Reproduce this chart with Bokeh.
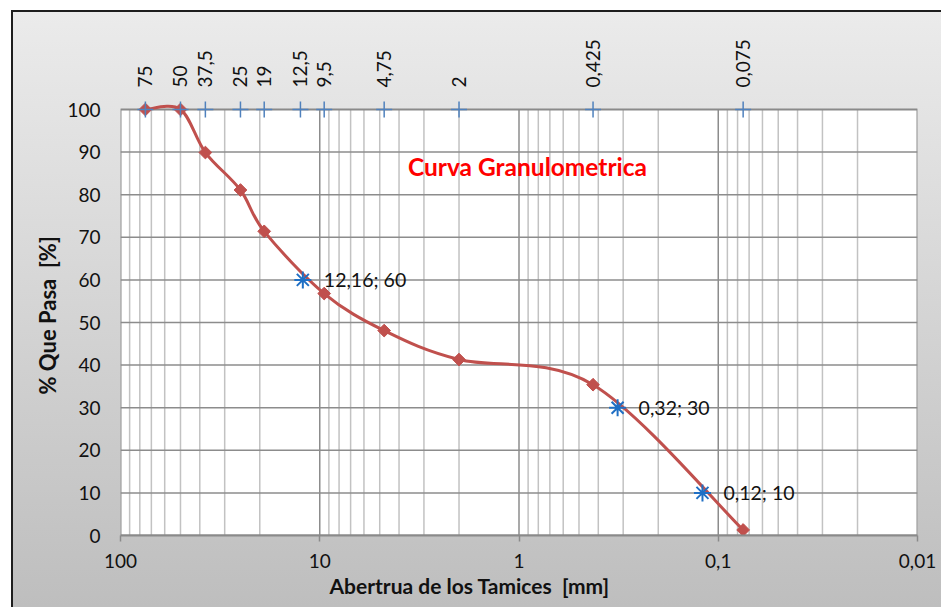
import numpy as np
from bokeh.plotting import figure
from bokeh.models import Range1d, FixedTicker, Label, Title
from bokeh.embed import file_html
from bokeh.resources import INLINE
from bokeh.core.properties import value

# ---- data -------------------------------------------------------------
sieve_sizes = [75, 50, 37.5, 25, 19, 12.5, 9.5, 4.75, 2, 0.425, 0.075]
sieve_labels = ["75", "50", "37,5", "25", "19", "12,5", "9,5", "4,75", "2", "0,425", "0,075"]
sieve_row = [100] * len(sieve_sizes)

curve_sizes = [75, 50, 37.5, 25, 19, 9.5, 4.75, 2, 0.425, 0.075]
curve_passing = [100, 100, 89.9, 81.1, 71.4, 56.8, 48.1, 41.3, 35.4, 1.3]

d_sizes = [12.16, 0.32, 0.12]
d_passing = [60, 30, 10]

x_ticks = [100, 10, 1, 0.1, 0.01]
x_tick_labels = ["100", "10", "1", "0,1", "0,01"]
y_ticks = list(range(0, 101, 10))

# ---- layout -----------------------------------------------------------
W, H = 941, 607
FRAME_L, FRAME_R = 120, 917
FRAME_T, FRAME_B = 20, 535
ROW_100 = 109                      # pixel row of the 100 % line
px_per_unit = (FRAME_B - ROW_100) / 100.0
y_end = (FRAME_B - FRAME_T) / px_per_unit

FONT = "Lato"
RED = "#C0504D"
BLUE_PLUS = "#4F81BD"
BLUE_STAR = "#1F6FC4"
GRID_MAJOR = "#8C8C8C"
GRID_MINOR = "#C2C2C2"
TXT = "#111111"
NBSP = "\u00a0"

p = figure(
    width=W, height=H,
    x_axis_type="log",
    x_range=Range1d(100, 0.01),
    y_range=Range1d(0, y_end),
    min_border_left=FRAME_L, min_border_right=W - FRAME_R,
    min_border_top=FRAME_T, min_border_bottom=H - FRAME_B,
    toolbar_location=None, output_backend="svg",
    background_fill_color=None, border_fill_color=None,
    outline_line_color=None,
)
p.xgrid.visible = False
p.ygrid.visible = False

# chart area: gradient panel with dark frame line on the top/left edges
p.styles = {
    "background": (
        "linear-gradient(#1e1e1e, #1e1e1e) 11px 10px / 930px 2px no-repeat, "
        "linear-gradient(#1e1e1e, #1e1e1e) 11px 10px / 2px 597px no-repeat, "
        "linear-gradient(#ebebeb, #bebebe) 13px 12px / 928px 595px no-repeat, "
        "#ffffff"
    )
}

# plot area
p.quad(left=100, right=0.01, bottom=0, top=100, fill_color="white", line_color=None)

# vertical log grid
minor_x, major_x = [], []
for k in range(-2, 2):
    for m in range(1, 10):
        v = m * 10.0 ** k
        if abs(v - 0.01) < 1e-12:
            continue
        (major_x if m == 1 else minor_x).append(v)
p.segment(x0=minor_x, y0=0, x1=minor_x, y1=100, line_color=GRID_MINOR, line_width=1.5)
p.segment(x0=major_x, y0=0, x1=major_x, y1=100, line_color=GRID_MAJOR, line_width=1.5)

# horizontal grid
hy = [v for v in y_ticks if 0 < v < 100]
p.segment(x0=100, y0=hy, x1=0.01, y1=hy, line_color=GRID_MAJOR, line_width=1.5)

# plot area border
p.quad(left=100, right=0.01, bottom=0, top=100, fill_color=None,
       line_color="#8A8A8A", line_width=2)

# ---- axes -------------------------------------------------------------
xa = p.xaxis[0]
xa.ticker = FixedTicker(ticks=x_ticks, minor_ticks=[])
xa.major_label_overrides = dict(zip(x_ticks, x_tick_labels))
xa.axis_line_color = "#8A8A8A"
xa.axis_line_width = 2
xa.major_tick_line_color = "#8A8A8A"
xa.major_tick_line_width = 1.5
xa.major_tick_in = 0
xa.major_tick_out = 6
xa.minor_tick_line_color = None
xa.major_label_standoff = 12
xa.major_label_text_font = FONT
xa.major_label_text_font_size = "19px"
xa.major_label_text_color = TXT

ya = p.yaxis[0]
ya.ticker = FixedTicker(ticks=y_ticks, minor_ticks=[])
ya.bounds = (0, 100)
ya.axis_line_color = None
ya.major_tick_line_color = None
ya.minor_tick_line_color = None
ya.major_tick_in = 0
ya.major_tick_out = 0
ya.major_label_standoff = 20
ya.major_label_text_font = FONT
ya.major_label_text_font_size = "19px"
ya.major_label_text_color = TXT

# ---- smoothed grading curve (cubic Bezier through the points in log space)
u = np.log10(np.array(curve_sizes, dtype=float))
v = np.array(curve_passing, dtype=float)
n = len(u)
x0, y0, x1, y1, cx0, cy0, cx1, cy1 = ([] for _ in range(8))
for i in range(n - 1):
    a = i - 1 if i > 0 else i
    d = i + 2 if i + 2 < n else i + 1
    c1u = u[i] + (u[i + 1] - u[a]) / 6.0
    c1v = v[i] + (v[i + 1] - v[a]) / 6.0
    c2u = u[i + 1] - (u[d] - u[i]) / 6.0
    c2v = v[i + 1] - (v[d] - v[i]) / 6.0
    x0.append(10 ** u[i]); y0.append(v[i])
    x1.append(10 ** u[i + 1]); y1.append(v[i + 1])
    cx0.append(10 ** c1u); cy0.append(c1v)
    cx1.append(10 ** c2u); cy1.append(c2v)
p.bezier(x0=x0, y0=y0, x1=x1, y1=y1, cx0=cx0, cy0=cy0, cx1=cx1, cy1=cy1,
         line_color=RED, line_width=3, line_cap="round")

p.scatter(curve_sizes, curve_passing, marker="square", angle=np.pi / 4, size=9,
          fill_color=RED, line_color=RED)

# sieve openings along the top
p.scatter(sieve_sizes, sieve_row, marker="cross", size=16,
          line_color=BLUE_PLUS, line_width=1.5)
p.text(x=sieve_sizes, y=sieve_row, text=sieve_labels, angle=np.pi / 2,
       text_align="left", text_baseline="middle", y_offset=-22,
       text_font=value(FONT), text_font_size="19px", text_color=TXT)

# D60 / D30 / D10
p.scatter(d_sizes, d_passing, marker="asterisk", size=17,
          line_color=BLUE_STAR, line_width=2)
d_labels = [f"{s:g}".replace(".", ",") + f"; {q:g}" for s, q in zip(d_sizes, d_passing)]
p.text(x=d_sizes, y=d_passing, text=d_labels, x_offset=21,
       text_align="left", text_baseline="middle",
       text_font=value(FONT), text_font_size="19.5px", text_color=TXT)

# ---- titles ------------------------------------------------------------
p.add_layout(Label(x=527 - FRAME_L, y=FRAME_B - 166, x_units="screen", y_units="screen",
                   text="Curva Granulometrica", text_align="center",
                   text_baseline="alphabetic", text_font=FONT, text_font_size="24.5px",
                   text_font_style="bold", text_color="#FF0000"))

# y-axis title in the left panel, text starting 394 px down the page
p.add_layout(Title(text=f"% Que Pasa {NBSP}[%]", align="left",
                   offset=FRAME_B - 394, standoff=8, text_font=FONT,
                   text_font_size="22px", text_font_style="bold",
                   text_color=TXT), "left")

# x-axis title sits in the panel under the axis, starting at x = 329 px
p.add_layout(Title(text=f"Abertrua de los Tamices {NBSP}[mm]", align="left",
                   offset=329 - FRAME_L, standoff=0, text_font=FONT,
                   text_font_size="21px", text_font_style="bold",
                   text_color=TXT), "below")

open("out.html", "w").write(file_html(p, INLINE))
